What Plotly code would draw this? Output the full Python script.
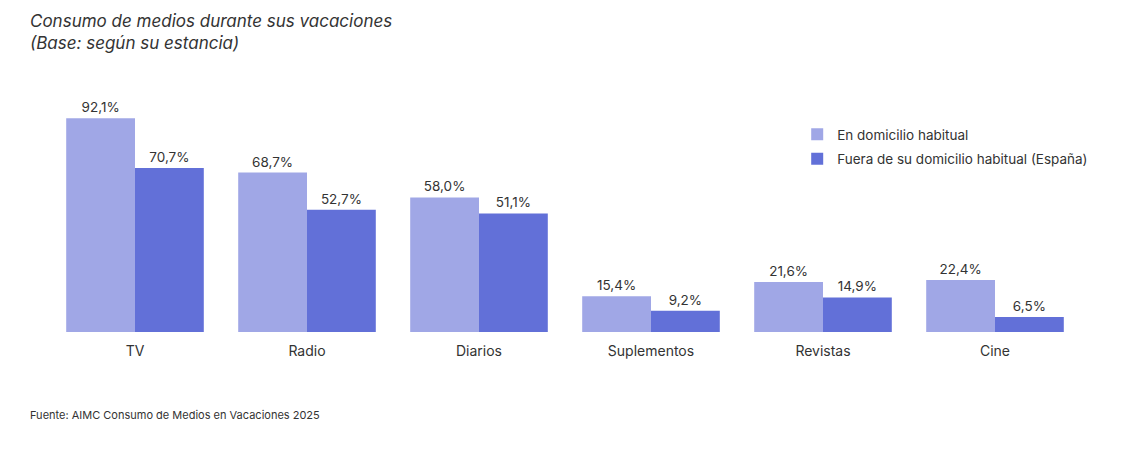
import plotly.graph_objects as go

# Data
categories = ["TV", "Radio", "Diarios", "Suplementos", "Revistas", "Cine"]
en_domicilio = [92.1, 68.7, 58.0, 15.4, 21.6, 22.4]
fuera_domicilio = [70.7, 52.7, 51.1, 9.2, 14.9, 6.5]
series_names = ["En domicilio habitual", "Fuera de su domicilio habitual (España)"]


def fmt(values):
    # Spanish decimal comma
    return [f"{v:.1f}".replace(".", ",") + "%" for v in values]


fig = go.Figure()
fig.add_trace(go.Bar(
    x=categories, y=en_domicilio, name=series_names[0], legendgroup="a",
    marker_color="#A0A7E6", text=fmt(en_domicilio),
    textposition="outside", cliponaxis=False,
))
fig.add_trace(go.Bar(
    x=categories, y=fuera_domicilio, name=series_names[1], legendgroup="b",
    marker_color="#6270D8", text=fmt(fuera_domicilio),
    textposition="outside", cliponaxis=False,
))

fig.update_traces(textfont=dict(size=13.5, color="#333333"), marker_line_width=0)

# page body adds an 8px offset, so margins are shifted by that amount
fig.update_layout(
    width=1122, height=460,
    margin=dict(l=41, r=49, t=92, b=136, autoexpand=False),
    barmode="group", bargap=0.2, bargroupgap=0,
    plot_bgcolor="white", paper_bgcolor="white",
    font=dict(family="Inter, Open Sans, sans-serif", color="#333333"),
    xaxis=dict(showline=False, showgrid=False, ticks="outside", ticklen=6,
               tickcolor="rgba(0,0,0,0)",
               tickfont=dict(size=14, color="#333333")),
    yaxis=dict(visible=False, range=[0, 100]),
    legend=dict(x=0.725, y=0.918, xanchor="left", yanchor="top",
                font=dict(size=13.5, color="#333333"),
                itemwidth=30, tracegroupgap=4, bgcolor="rgba(0,0,0,0)"),
    showlegend=True,
)

# Title (two lines, italic)
fig.add_annotation(
    text="<i>Consumo de medios durante sus vacaciones<br>(Base: según su estancia)</i>",
    xref="paper", yref="paper", x=-0.020, y=1.0, xanchor="left", yanchor="bottom",
    yshift=45, align="left", showarrow=False,
    font=dict(size=17, color="#333333"),
)

# Source note
fig.add_annotation(
    text="Fuente: AIMC Consumo de Medios en Vacaciones 2025",
    xref="paper", yref="paper", x=-0.020, y=0, xanchor="left", yanchor="top",
    yshift=-74, showarrow=False, font=dict(size=11, color="#333333"),
)

fig.write_html("out.html")
